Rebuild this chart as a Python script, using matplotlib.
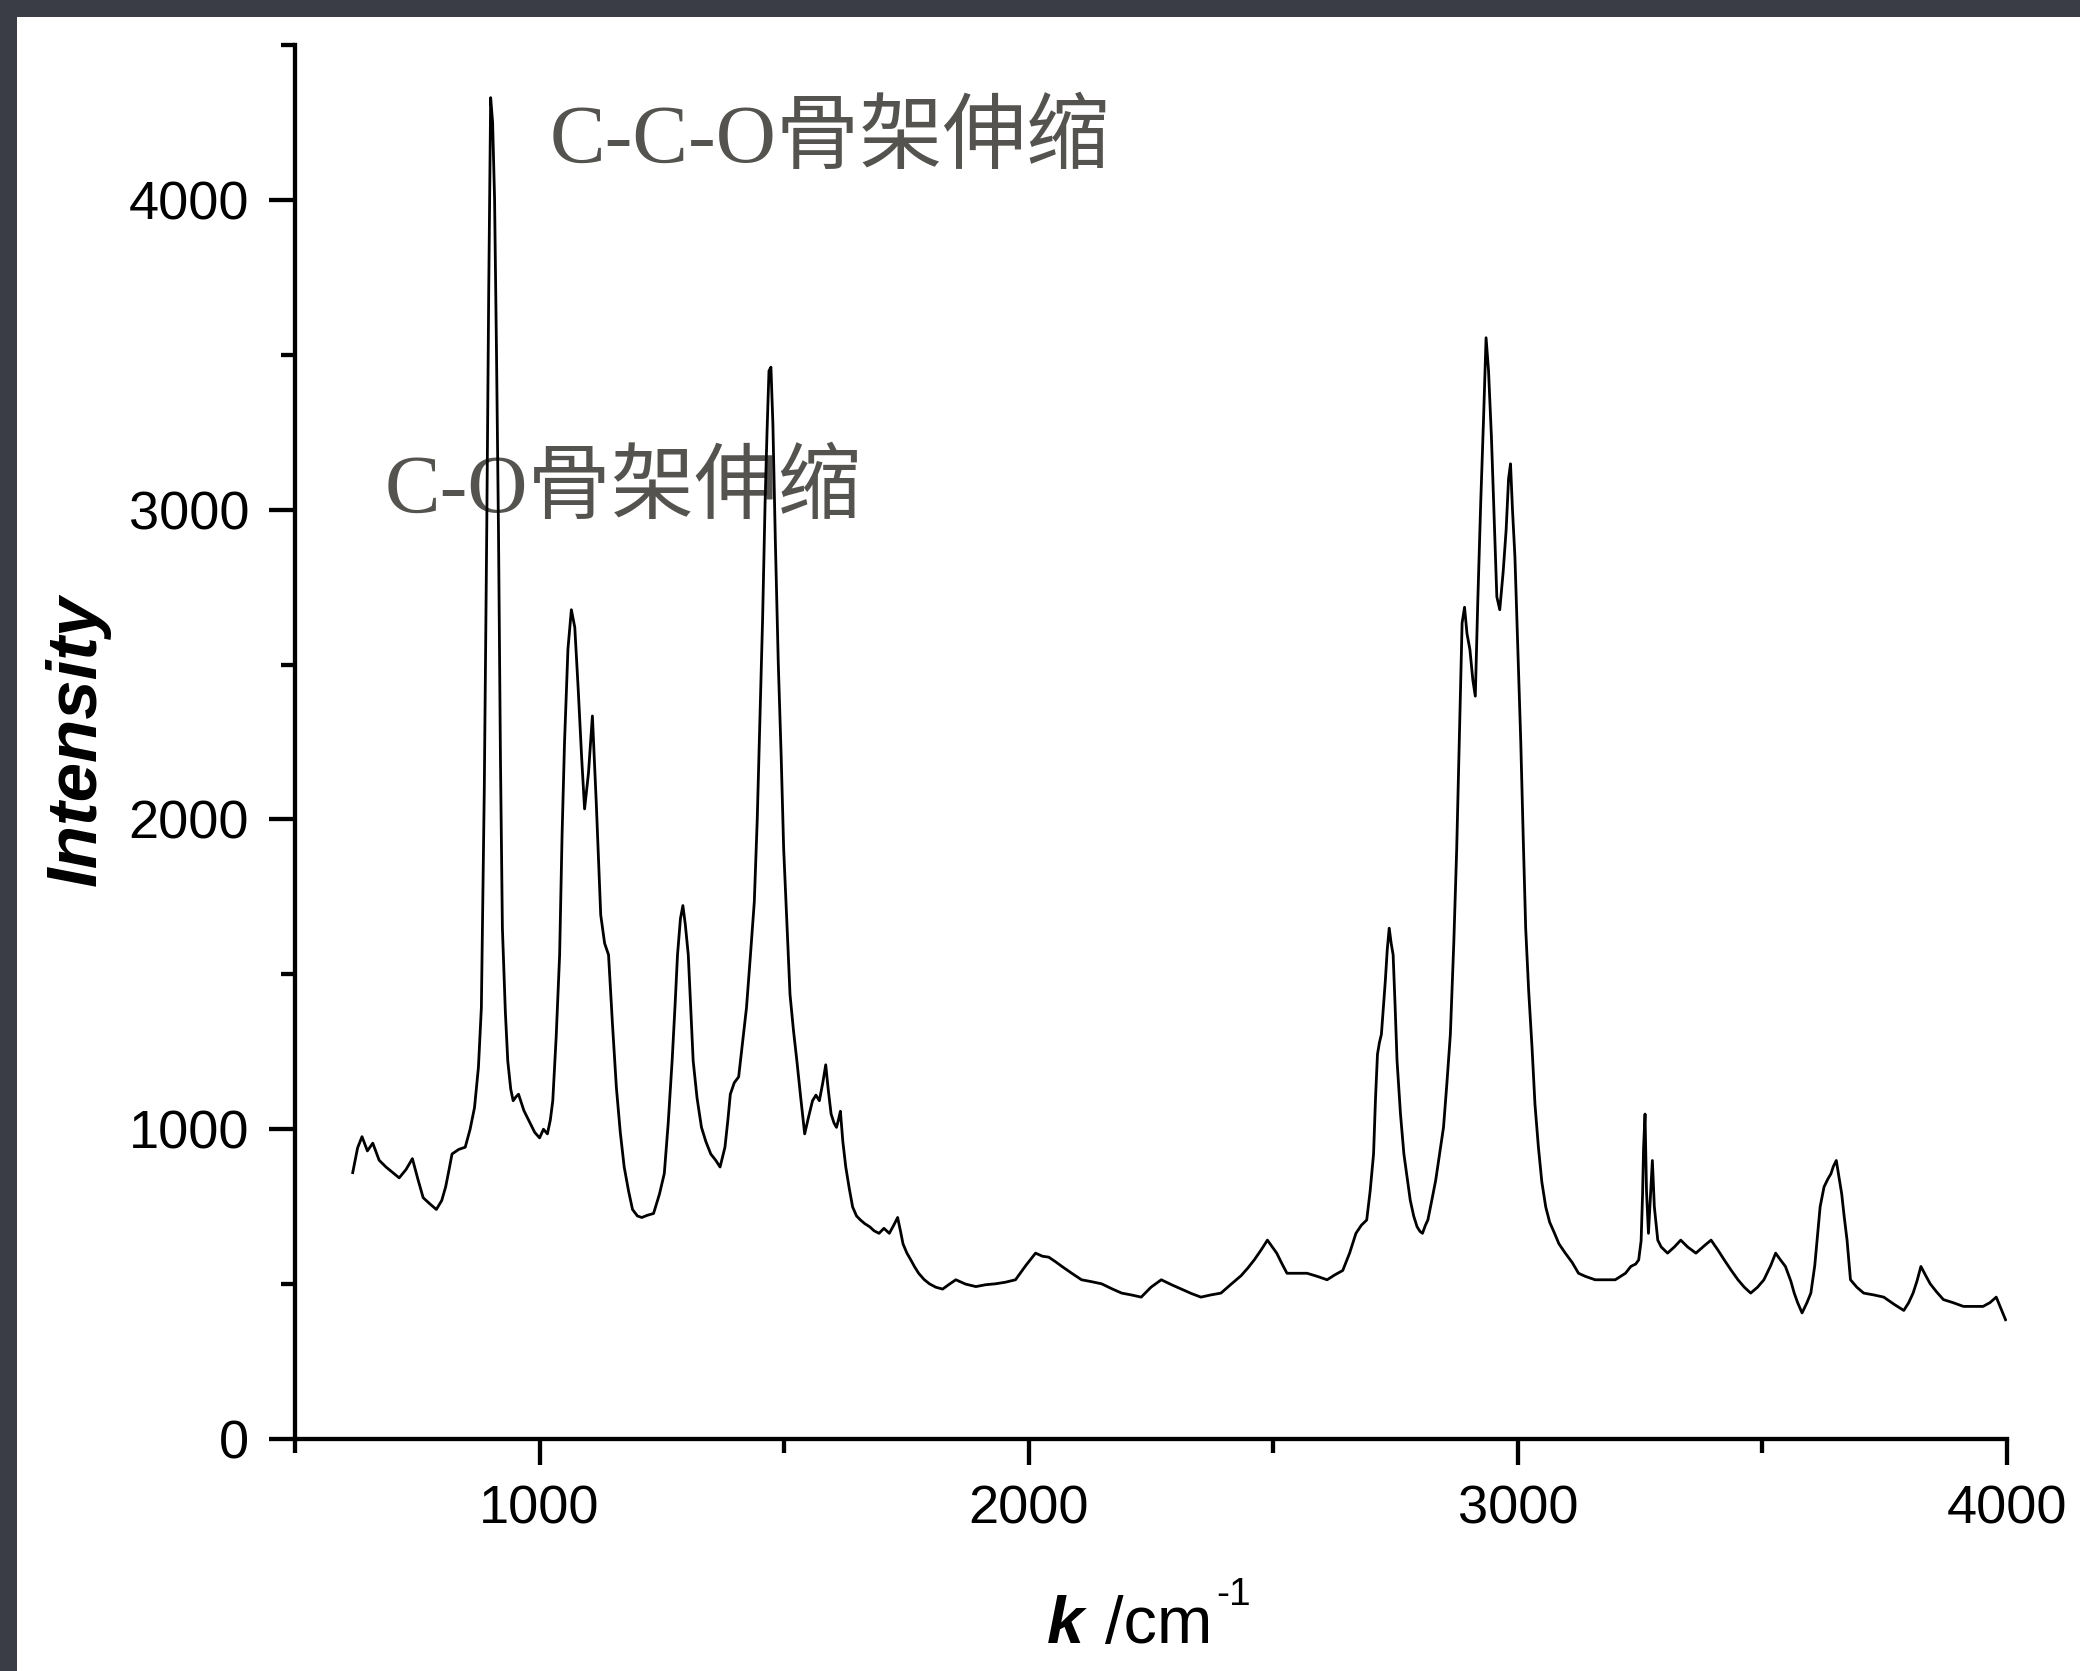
import numpy as np
import matplotlib
matplotlib.use("Agg")
import matplotlib.pyplot as plt
from matplotlib.patches import Rectangle
from matplotlib.ticker import MultipleLocator

# Raman spectrum
wavenumber = [618, 628, 637, 648, 659, 672, 686, 700, 713, 727, 740, 751, 762, 775, 789, 800, 808, 815, 821,
              835, 848, 858, 867, 875, 881, 887, 892, 896, 900, 904, 908, 912, 916, 920, 924, 930, 935, 941,
              946, 952, 957, 968, 978, 990, 1000, 1008, 1016, 1022, 1027, 1034, 1041, 1046, 1051, 1058, 1065,
              1072, 1079, 1086, 1092, 1100, 1108, 1116, 1125, 1133, 1141, 1149, 1157, 1165, 1173, 1182, 1190,
              1200, 1209, 1220, 1233, 1245, 1255, 1263, 1271, 1277, 1282, 1288, 1293, 1298, 1304, 1309, 1314,
              1322, 1331, 1340, 1350, 1360, 1369, 1374, 1379, 1385, 1390, 1398, 1407, 1415, 1423, 1431, 1439,
              1445, 1450, 1456, 1461, 1465, 1469, 1473, 1477, 1482, 1488, 1494, 1499, 1506, 1512, 1519, 1526,
              1534, 1542, 1550, 1558, 1565, 1572, 1579, 1585, 1590, 1596, 1602, 1607, 1611, 1615, 1620, 1626,
              1633, 1640, 1648, 1656, 1665, 1675, 1684, 1694, 1704, 1715, 1724, 1732, 1738, 1743, 1751, 1759,
              1767, 1775, 1786, 1797, 1810, 1824, 1838, 1851, 1871, 1892, 1912, 1932, 1952, 1973, 1994, 2014,
              2028, 2041, 2055, 2068, 2088, 2108, 2128, 2149, 2170, 2190, 2210, 2230, 2250, 2271, 2292, 2312,
              2332, 2352, 2372, 2393, 2414, 2434, 2448, 2461, 2475, 2488, 2498, 2507, 2518, 2528, 2548, 2569,
              2590, 2610, 2626, 2642, 2656, 2669, 2680, 2691, 2698, 2705, 2709, 2713, 2717, 2721, 2725, 2729,
              2733, 2737, 2741, 2745, 2749, 2753, 2760, 2767, 2774, 2780, 2787, 2794, 2800, 2805, 2811, 2816,
              2824, 2832, 2840, 2848, 2855, 2862, 2869, 2875, 2881, 2886, 2891, 2896, 2902, 2908, 2913, 2918,
              2924, 2930, 2935, 2940, 2946, 2952, 2957, 2963, 2970, 2976, 2981, 2985, 2989, 2994, 3000, 3006,
              3011, 3016, 3022, 3029, 3035, 3042, 3049, 3057, 3065, 3075, 3084, 3097, 3111, 3124, 3138, 3158,
              3179, 3199, 3220, 3231, 3241, 3247, 3252, 3255, 3257, 3260, 3263, 3267, 3271, 3275, 3279, 3286,
              3293, 3306, 3320, 3333, 3347, 3364, 3382, 3395, 3409, 3422, 3436, 3450, 3463, 3476, 3490, 3503,
              3517, 3527, 3536, 3547, 3558, 3565, 3572, 3581, 3591, 3599, 3607, 3613, 3618, 3626, 3634, 3640,
              3645, 3651, 3656, 3662, 3667, 3673, 3680, 3693, 3707, 3728, 3748, 3769, 3789, 3799, 3808, 3816,
              3824, 3833, 3843, 3856, 3870, 3890, 3911, 3931, 3951, 3965, 3978, 3988, 3997]
intensity = [860, 940, 976, 930, 955, 900, 878, 860, 843, 870, 905, 840, 779, 760, 741, 770, 814, 870, 920,
             935, 942, 1000, 1070, 1200, 1392, 2100, 2933, 3700, 4330, 4250, 4004, 3500, 2933, 2200, 1649,
             1380, 1220, 1130, 1092, 1105, 1113, 1060, 1028, 990, 972, 1000, 985, 1030, 1092, 1300, 1563,
             1950, 2248, 2550, 2677, 2620, 2420, 2200, 2034, 2150, 2334, 2050, 1692, 1600, 1563, 1340, 1135,
             990, 878, 800, 741, 720, 715, 722, 728, 790, 857, 1020, 1221, 1400, 1563, 1680, 1722, 1660, 1563,
             1390, 1221, 1100, 1006, 960, 920, 900, 878, 910, 942, 1030, 1113, 1150, 1169, 1280, 1392, 1560,
             1734, 2000, 2291, 2650, 3019, 3250, 3448, 3460, 3276, 2900, 2505, 2200, 1906, 1650, 1435, 1320,
             1221, 1100, 985, 1040, 1092, 1110, 1092, 1150, 1208, 1130, 1049, 1020, 1006, 1030, 1058, 960,
             878, 810, 749, 720, 707, 695, 685, 672, 664, 680, 664, 690, 715, 670, 630, 600, 578, 555, 535,
             515, 501, 490, 484, 500, 514, 500, 492, 498, 501, 506, 514, 560, 600, 590, 587, 572, 557, 535,
             514, 508, 501, 485, 471, 465, 458, 490, 514, 498, 484, 470, 458, 465, 471, 500, 527, 552, 578,
             610, 642, 620, 600, 565, 535, 535, 535, 525, 514, 530, 544, 600, 664, 690, 707, 800, 920, 1100,
             1242, 1280, 1306, 1390, 1478, 1580, 1649, 1600, 1563, 1400, 1221, 1050, 920, 840, 771, 720, 685,
             670, 664, 690, 707, 770, 835, 920, 1006, 1150, 1306, 1600, 1906, 2300, 2634, 2685, 2600, 2548,
             2450, 2398, 2700, 3019, 3300, 3555, 3450, 3233, 2950, 2719, 2677, 2800, 2934, 3100, 3148, 3000,
             2848, 2550, 2248, 1940, 1649, 1450, 1263, 1080, 942, 830, 749, 700, 664, 630, 600, 570, 535, 525,
             514, 514, 514, 535, 557, 565, 578, 640, 792, 940, 1049, 800, 664, 780, 899, 750, 642, 620, 600,
             620, 642, 620, 600, 625, 642, 610, 578, 545, 514, 490, 471, 490, 514, 560, 600, 580, 557, 510, 471,
             440, 407, 440, 471, 560, 664, 750, 814, 840, 856, 880, 899, 850, 792, 720, 642, 514, 490, 471,
             465, 458, 435, 415, 440, 471, 510, 557, 530, 501, 475, 450, 440, 428, 428, 428, 440, 458, 420,
             385]

x_ticks = [1000, 2000, 3000, 4000]
y_ticks = [0, 1000, 2000, 3000, 4000]
label_top = "C-C-O骨架伸缩"
label_mid = "C-O骨架伸缩"

W, H = 2080, 1671
fig = plt.figure(figsize=(W / 100, H / 100), dpi=100)
fig.patch.set_facecolor("#3a3d45")
fig.add_artist(Rectangle((17 / W, 0), 1 - 17 / W, 1 - 17 / H, transform=fig.transFigure,
                         facecolor="white", edgecolor="none", zorder=-5))

ax = fig.add_axes([295 / W, 1 - 1439 / H, (2007 - 295) / W, (1439 - 45) / H])
ax.patch.set_alpha(0)
ax.plot(wavenumber, intensity, color="black", lw=2.0, zorder=3)

ax.set_xlim(500, 4000)
ax.set_ylim(0, 4500)
ax.set_xticks(x_ticks)
ax.set_yticks(y_ticks)
ax.xaxis.set_minor_locator(MultipleLocator(500))
ax.yaxis.set_minor_locator(MultipleLocator(500))
for s in ["top", "right"]:
    ax.spines[s].set_visible(False)
for s in ["left", "bottom"]:
    ax.spines[s].set_linewidth(3.1)
ax.tick_params(which="major", direction="out", length=19, width=3.1, labelsize=39, pad=14)
ax.tick_params(which="minor", direction="out", length=10, width=3.1)
for lab in ax.get_xticklabels() + ax.get_yticklabels():
    lab.set_family("Liberation Sans")

# axis titles
fig.text(78 / W, 1 - 740 / H, "Intensity", rotation=90, ha="center", va="center",
         fontsize=51, fontweight="bold", fontstyle="italic", family="Liberation Sans")
fig.text(1047 / W, 1 - 1643 / H, "k", ha="left", va="baseline", fontsize=48,
         fontweight="bold", fontstyle="italic", family="Liberation Sans")
fig.text(1105 / W, 1 - 1643 / H, "/cm", ha="left", va="baseline", fontsize=48, family="Liberation Sans")
fig.text(1216 / W, 1 - 1605 / H, "-1", ha="left", va="baseline", fontsize=28, family="Liberation Sans")

# peak notes, under the trace
fam = ["Liberation Serif", "Noto Sans CJK SC"]
ax.text(550 / W, 1 - 141 / H, label_top, transform=fig.transFigure, ha="left", va="center",
        fontsize=60, color="#55534f", family=fam, zorder=1)
ax.text(385 / W, 1 - 491 / H, label_mid, transform=fig.transFigure, ha="left", va="center",
        fontsize=60, color="#55534f", family=fam, zorder=1)

fig.savefig("out.png", dpi=100, facecolor=fig.get_facecolor())
